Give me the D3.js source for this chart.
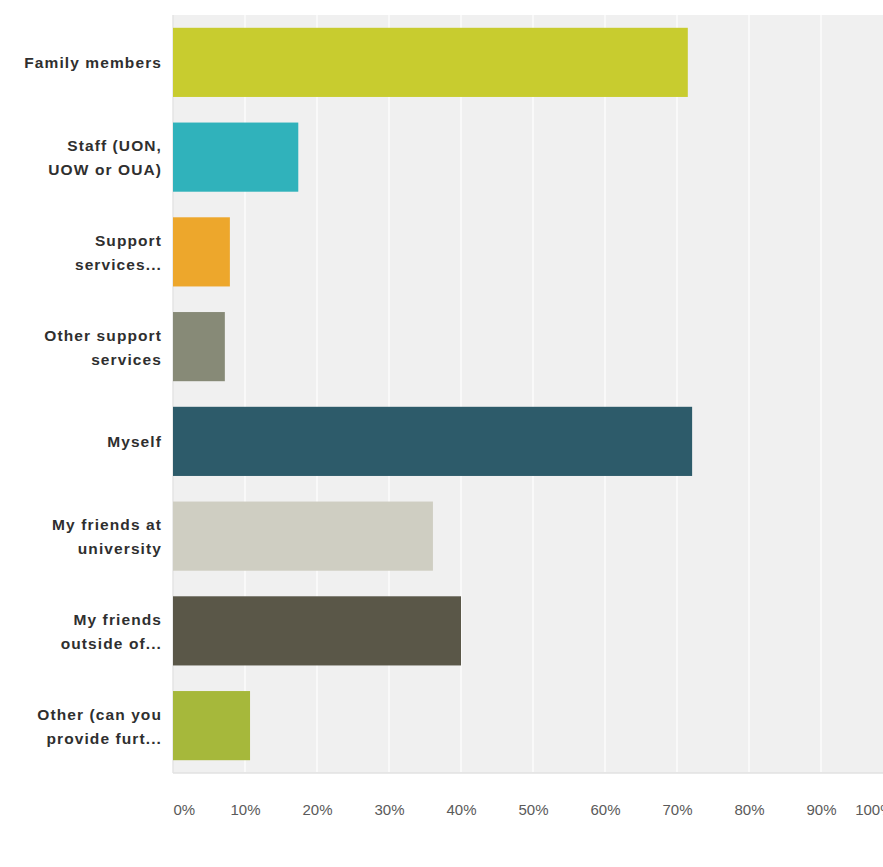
<!DOCTYPE html>
<html>
<head>
<meta charset="utf-8">
<script src="https://cdn.jsdelivr.net/npm/d3@7"></script>
<style>
  html, body { margin: 0; padding: 0; background: #ffffff; }
  svg { display: block; }
  .cat-label { font-family: "Liberation Sans", Arial, sans-serif; font-weight: bold; fill: #2f2f2f; }
  .tick-label { font-family: "Liberation Sans", Arial, sans-serif; fill: #5a5a5a; }
</style>
</head>
<body>
<svg id="chart" width="883" height="867"></svg>
<script>
// Answer options (each entry is one wrapped label, split into lines)
const categories = [
  ["Family members"],
  ["Staff (UON,", "UOW or OUA)"],
  ["Support", "services..."],
  ["Other support", "services"],
  ["Myself"],
  ["My friends at", "university"],
  ["My friends", "outside of..."],
  ["Other (can you", "provide furt..."]
];

// Share of respondents choosing each option (%)
const values = [71.5, 17.4, 7.9, 7.2, 72.1, 36.1, 40.0, 10.7];

// Bar colours, one per option
const colors = ["#c8cc2f", "#30b2bb", "#eda72c", "#878a77", "#2d5b6a", "#cfcec2", "#5a5748", "#a6b83b"];

// Axis ticks
const tickValues = [0, 10, 20, 30, 40, 50, 60, 70, 80, 90, 100];
const tickLabels = ["0%", "10%", "20%", "30%", "40%", "50%", "60%", "70%", "80%", "90%", "100%"];

const svg = d3.select("#chart");
const plot = { left: 173, right: 893, top: 15, bottom: 773 };

const keys = categories.map((c, i) => i);

const x = d3.scaleLinear().domain([0, 100]).range([plot.left, plot.right]);
const y = d3.scaleBand().domain(keys).range([plot.top, plot.bottom])
  .paddingInner(0.27).paddingOuter(0.135);

// Plot background
svg.append("rect")
  .attr("x", plot.left).attr("y", plot.top)
  .attr("width", plot.right - plot.left).attr("height", plot.bottom - plot.top)
  .attr("fill", "#f0f0f0");

// Left and bottom edges of the plot area
svg.append("line")
  .attr("x1", plot.left).attr("x2", plot.left)
  .attr("y1", plot.top).attr("y2", plot.bottom)
  .attr("stroke", "#e4e4e4").attr("stroke-width", 1.5);
svg.append("line")
  .attr("x1", plot.left).attr("x2", plot.right)
  .attr("y1", plot.bottom).attr("y2", plot.bottom)
  .attr("stroke", "#e2e2e2").attr("stroke-width", 1.5);

// Vertical gridlines
svg.append("g").selectAll("line")
  .data(tickValues.filter(v => v > 0))
  .join("line")
  .attr("x1", d => x(d)).attr("x2", d => x(d))
  .attr("y1", plot.top).attr("y2", plot.bottom - 1)
  .attr("stroke", "#f9f9f9").attr("stroke-width", 2);

// Bars
svg.append("g").selectAll("rect")
  .data(values)
  .join("rect")
  .attr("x", x(0))
  .attr("y", (d, i) => y(i))
  .attr("width", d => x(d) - x(0))
  .attr("height", y.bandwidth())
  .attr("fill", (d, i) => colors[i]);

// Category labels, right-aligned beside the plot
const lineH = 24;
const labelG = svg.append("g");
categories.forEach((lines, i) => {
  const cy = y(i) + y.bandwidth() / 2;
  const t = labelG.append("text")
    .attr("class", "cat-label")
    .attr("text-anchor", "end")
    .attr("font-size", 15.5)
    .attr("letter-spacing", 1.1)
    .attr("dominant-baseline", "central");
  lines.forEach((ln, j) => {
    t.append("tspan")
      .attr("x", 162)
      .attr("y", cy + (j - (lines.length - 1) / 2) * lineH)
      .text(ln);
  });
});

// Percentage axis beneath the plot
const axis = d3.axisBottom(x)
  .tickValues(tickValues)
  .tickFormat((d, i) => tickLabels[i])
  .tickSize(0)
  .tickPadding(0);
const axisG = svg.append("g")
  .attr("transform", `translate(0, ${plot.bottom + 37})`)
  .call(axis);
axisG.select(".domain").remove();
axisG.selectAll("text")
  .attr("class", "tick-label")
  .attr("font-size", 15)
  .attr("dy", "0.35em")
  .attr("text-anchor", d => d === 0 ? "start" : (d === 100 ? "end" : "middle"));
</script>
</body>
</html>
